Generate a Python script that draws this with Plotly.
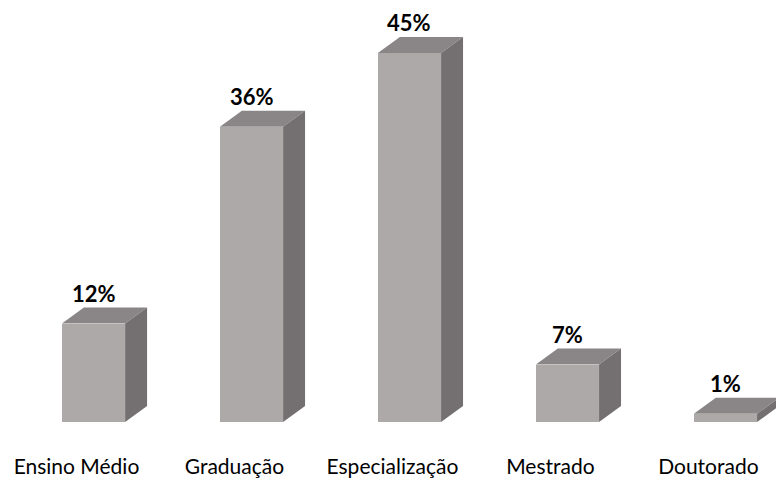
import plotly.graph_objects as go

categories = ["Ensino Médio", "Graduação", "Especialização", "Mestrado", "Doutorado"]
values = [12, 36, 45, 7, 1]
labels = ["12%", "36%", "45%", "7%", "1%"]

FRONT = "#ADA9A8"
TOP = "#8A8687"
SIDE = "#747071"
W = 0.4      # front face width (category units)
DX = 0.139   # depth offset, x
DY = 1.95    # depth offset, y (value units)

idx = list(range(len(categories)))
fig = go.Figure()

fig.add_trace(go.Bar(x=idx, y=values, width=W, marker=dict(color=FRONT, line=dict(width=0)),
                     hoverinfo="skip", showlegend=False))

tx, ty, sx, sy = [], [], [], []
for i, v in zip(idx, values):
    l, r = i - W / 2, i + W / 2
    tx += [l, r, r + DX, l + DX, l, None]
    ty += [v, v, v + DY, v + DY, v, None]
    sx += [r, r + DX, r + DX, r, r, None]
    sy += [0, DY, v + DY, v, 0, None]

fig.add_trace(go.Scatter(x=tx, y=ty, fill="toself", fillcolor=TOP, mode="lines",
                         line=dict(width=0, color=TOP), hoverinfo="skip", showlegend=False))
fig.add_trace(go.Scatter(x=sx, y=sy, fill="toself", fillcolor=SIDE, mode="lines",
                         line=dict(width=0, color=SIDE), hoverinfo="skip", showlegend=False))

for i, v, t in zip(idx, values, labels):
    fig.add_annotation(x=i, y=v + DY, text="<b>%s</b>" % t, showarrow=False,
                       yanchor="bottom", yshift=-1, font=dict(family="Lato", size=22, color="#000000"))

fig.update_layout(
    width=776, height=478,
    margin=dict(l=0, r=0, t=0, b=56),
    paper_bgcolor="white", plot_bgcolor="white",
    bargap=0,
    xaxis=dict(range=[-0.592, 4.320], tickvals=[i - 0.108 for i in idx], ticktext=categories,
               tickfont=dict(family="Lato", size=21, color="#000000"),
               showgrid=False, zeroline=False, showline=False, ticks="",
               ticklabelstandoff=30),
    yaxis=dict(range=[0, 51.46], visible=False, showgrid=False, zeroline=False),
)

fig.write_html("out.html", config={"displayModeBar": False},
               post_script="document.body.style.margin='0';")
